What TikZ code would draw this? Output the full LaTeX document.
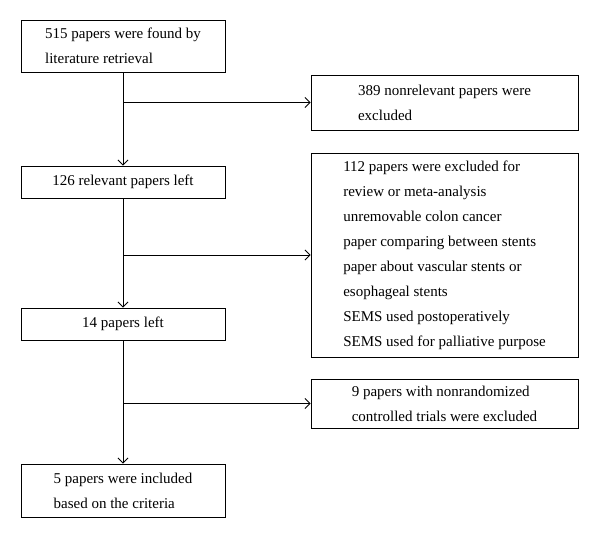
\documentclass[tikz,border=0pt]{standalone}
\usepackage{fontspec}
\setmainfont{Liberation Serif}
\usetikzlibrary{arrows.meta}

\begin{document}
\begin{tikzpicture}[x=1pt, y=-1pt,
	box/.style = {draw, line width=0.9pt, align=left, inner sep=0pt,
		font=\fontsize{15}{25}\selectfont},
	left/.style = {box, minimum width=204pt},
	right/.style = {box, minimum width=267pt},
	>={Straight Barb[length=5pt,width=10pt]}]
	\useasboundingbox (0,0) rectangle (600,538);
	\node[left, minimum height=52pt] (found) at (123,46) {515 papers were found by\\literature retrieval};
	\node[right, minimum height=55pt] (nonrel) at (444.5,102.5) {389 nonrelevant papers were\\excluded};
	\node[left, minimum height=32pt] (relevant) at (123,182) {126 relevant papers left};
	\node[right, minimum height=204pt] (excl) at (444.5,255) {112 papers were excluded for\\review or meta-analysis\\unremovable colon cancer\\paper comparing between stents\\paper about vascular stents or\\esophageal stents\\SEMS used postoperatively\\SEMS used for palliative purpose};
	\node[left, minimum height=32pt] (left14) at (123,324) {14 papers left};
	\node[right, minimum height=49pt] (nonrand) at (444.5,403.5) {9 papers with nonrandomized\\controlled trials were excluded};
	\node[left, minimum height=53pt] (incl) at (123,490.5) {5 papers were included\\based on the criteria};
	\coordinate (j1) at (found.south |- nonrel.west);
	\coordinate (j2) at (relevant.south |- excl.west);
	\coordinate (j3) at (left14.south |- nonrand.west);
	\draw[->, line width=0.9pt] (found) -- (relevant);
	\draw[->, line width=0.9pt] (relevant) -- (left14);
	\draw[->, line width=0.9pt] (left14) -- (incl);
	\draw[->, line width=0.9pt] (j1) -- (nonrel.west);
	\draw[->, line width=0.9pt] (j2) -- (excl.west);
	\draw[->, line width=0.9pt] (j3) -- (nonrand.west);
\end{tikzpicture}
\end{document}
